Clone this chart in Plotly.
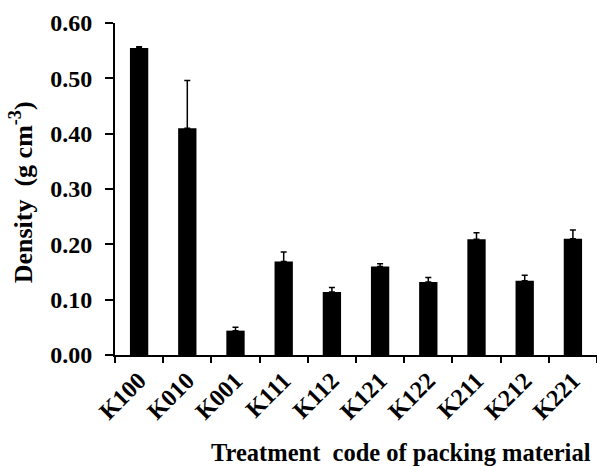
import plotly.graph_objects as go

categories = ["K100", "K010", "K001", "K111", "K112", "K121", "K122", "K211", "K212", "K221"]
density = [0.555, 0.410, 0.044, 0.169, 0.114, 0.160, 0.132, 0.209, 0.134, 0.210]
error_up = [0.002, 0.086, 0.006, 0.017, 0.008, 0.005, 0.008, 0.012, 0.010, 0.016]
y_ticks = [0.0, 0.1, 0.2, 0.3, 0.4, 0.5, 0.6]
y_tick_labels = ["0.00", "0.10", "0.20", "0.30", "0.40", "0.50", "0.60"]

FONT = "Liberation Serif, Times New Roman, serif"

fig = go.Figure()
fig.add_trace(go.Bar(
    x=categories,
    y=density,
    marker=dict(color="black", line=dict(color="black", width=0)),
    error_y=dict(type="data", symmetric=False, array=error_up,
                 arrayminus=[0] * len(error_up),
                 color="black", thickness=1.5, width=3),
))

fig.update_layout(
    width=597, height=466,
    margin=dict(l=115, r=0, t=23, b=111, autoexpand=False),
    paper_bgcolor="white", plot_bgcolor="white",
    bargap=0.62,
    showlegend=False,
    font=dict(family=FONT, color="black", weight="bold"),
)

fig.update_xaxes(
    automargin=False,
    showline=True, linecolor="black", linewidth=2,
    ticks="outside", tickson="boundaries", ticklen=6, tickwidth=2, tickcolor="black",
    tickangle=-45,
    tickfont=dict(family=FONT, size=24, color="black", weight="bold"),
    showgrid=False, zeroline=False,
)
fig.update_yaxes(
    automargin=False,
    range=[0, 0.6],
    tickvals=y_ticks, ticktext=y_tick_labels,
    showline=True, linecolor="black", linewidth=2,
    ticks="outside", ticklen=8, tickwidth=2, tickcolor="black",
    tickfont=dict(family=FONT, size=24, color="black", weight="bold"),
    ticklabelstandoff=8,
    showgrid=False, zeroline=False,
)

fig.add_annotation(
    text="Density  (g cm<sup>-3</sup>)",
    xref="paper", yref="paper", x=-0.195, y=0.49,
    xanchor="center", yanchor="middle", textangle=-90, showarrow=False,
    font=dict(family=FONT, size=26, color="black", weight="bold"),
)
fig.add_annotation(
    text="Treatment  code of packing material",
    xref="paper", yref="paper", x=0.593, y=-0.295,
    xanchor="center", yanchor="middle", showarrow=False,
    font=dict(family=FONT, size=24.5, color="black", weight="bold"),
)

fig.write_html(
    "out.html",
    config={"displayModeBar": False},
    post_script="document.body.style.margin='0';document.body.style.padding='0';",
)
